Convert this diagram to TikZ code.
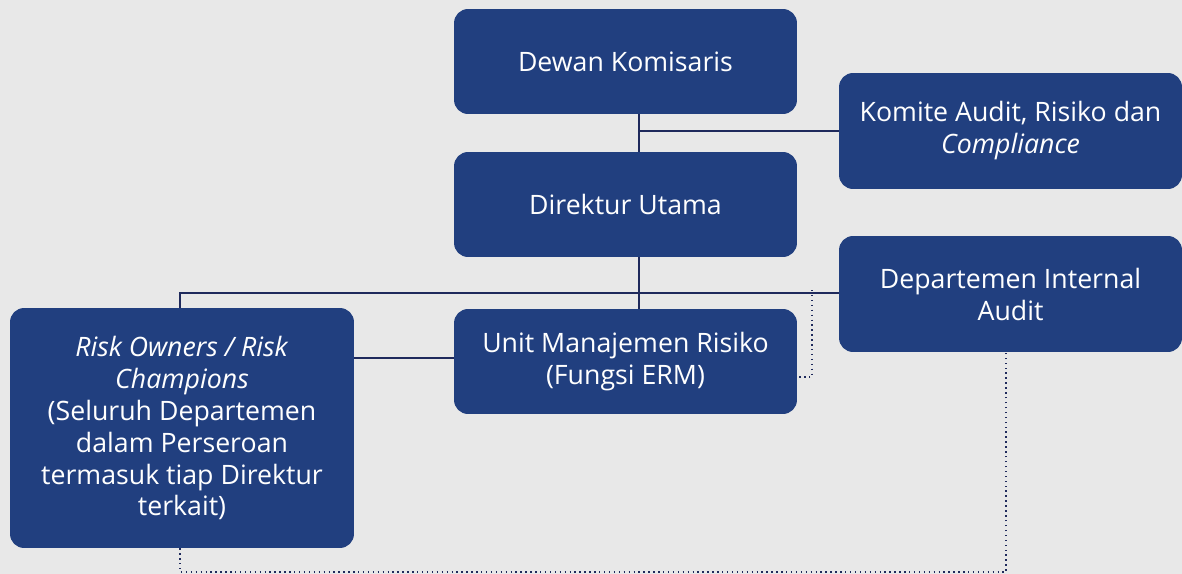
\documentclass[tikz,border=0pt]{standalone}
\usepackage{fontspec}
\setmainfont{Open Sans}
\definecolor{boxblue}{HTML}{213F7F}
\definecolor{linenavy}{HTML}{1F2A5C}
\definecolor{paper}{HTML}{E8E8E8}
\begin{document}
\begin{tikzpicture}[x=0.02cm, y=-0.02cm, font=\fontsize{15.2}{18.2}\selectfont,
	box/.style={fill=boxblue, text=white, rounded corners=8pt, align=center, inner sep=0pt},
	link/.style={draw=linenavy, line width=0.7pt},
	dotlink/.style={draw=linenavy, line width=0.8pt, dotted}]
%background
\fill[paper] (0,0) rectangle (1182,574);
\useasboundingbox (0,0) rectangle (1182,574);
%boxes
\node[box, minimum width=6.86cm, minimum height=2.1cm] (dewan) at (625.5,61.5) {Dewan Komisaris};
\node[box, minimum width=6.86cm, minimum height=2.32cm] (komite) at (1010.5,131) {Komite Audit, Risiko dan\\\textit{Compliance}};
\node[box, minimum width=6.86cm, minimum height=2.1cm] (dirut) at (625.5,204.5) {Direktur Utama};
\node[box, minimum width=6.86cm, minimum height=2.32cm] (audit) at (1010.5,294) {Departemen Internal\\Audit};
\node[box, minimum width=6.86cm, minimum height=2.1cm] (erm) at (625.5,361.5) {Unit Manajemen Risiko\\(Fungsi ERM)};
\node[box, minimum width=6.88cm, minimum height=4.8cm] (owners) at (182,428) {\textit{Risk Owners / Risk}\\\textit{Champions}\\(Seluruh Departemen\\dalam Perseroan\\termasuk tiap Direktur\\terkait)};
%lines
\draw[link] (dewan.south -| 639,0) -- (dirut.north -| 639,0);
\draw[link] (639,131) -- (komite.west |- 0,131);
\draw[link] (dirut.south -| 639,0) -- (erm.north -| 639,0);
\draw[link] (owners.north -| 180,0) -- (180,293) -- (audit.west |- 0,293);
\draw[link] (owners.east |- 0,358) -- (erm.west |- 0,358);
%dotted
\draw[dotlink] (812,290) -- (812,377) -- (erm.east |- 0,377);
\draw[dotlink] (owners.south -| 180,0) -- (180,572) -- (1006,572) -- (audit.south -| 1006,0);
\end{tikzpicture}
\end{document}
